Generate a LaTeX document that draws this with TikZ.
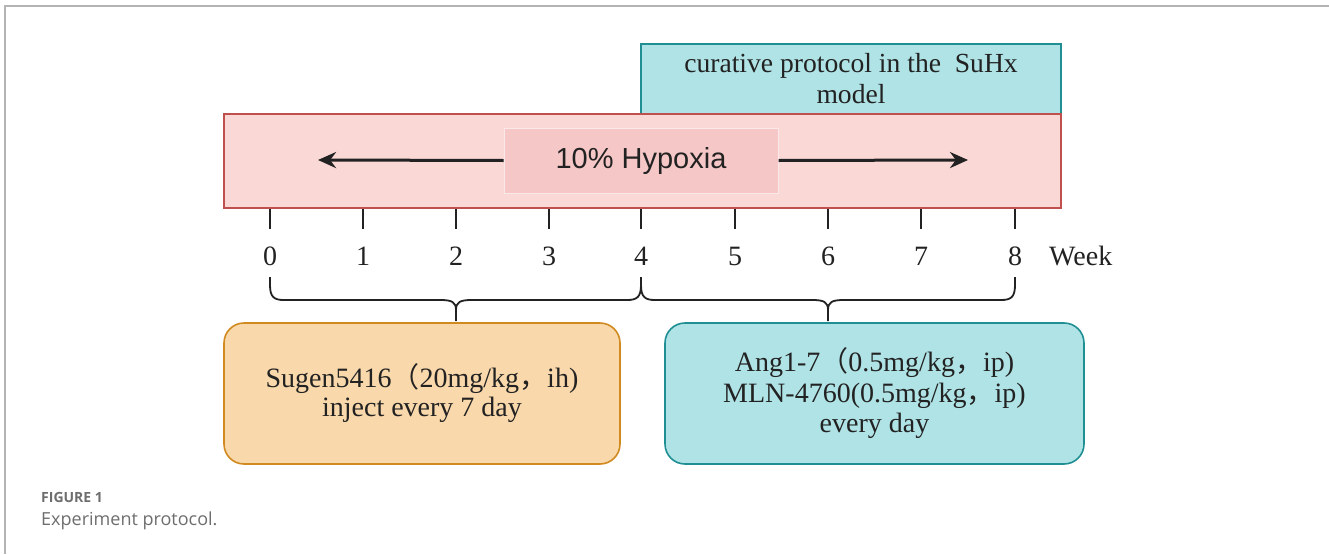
\documentclass[tikz,border=0pt]{standalone}
\usepackage{fontspec}
\setmainfont{Liberation Serif}
\newfontfamily\arialfont{Liberation Sans}
\newfontfamily\capfont{Open Sans}
\newfontfamily\cjk{Noto Sans CJK SC}
\usetikzlibrary{arrows.meta}
\definecolor{pinkfill}{HTML}{FAD8D5}
\definecolor{pinkdraw}{HTML}{C0504D}
\definecolor{pinkin}{HTML}{F5C8C7}
\definecolor{tealfill}{HTML}{B0E3E6}
\definecolor{tealdraw}{HTML}{1F8F94}
\definecolor{orfill}{HTML}{F9D8AB}
\definecolor{ordraw}{HTML}{D08A20}
\definecolor{framegray}{HTML}{B4B4B4}
\definecolor{capgray}{HTML}{6E6E6E}
\definecolor{ink}{HTML}{222222}
\tikzset{
  box/.style={inner sep=0pt, line width=1.6pt, align=center, text=ink},
  serif/.style={font=\fontsize{27.6}{31}\selectfont},
  tick/.style={line width=1.6pt, draw=ink},
  brace/.style={line width=1.8pt, draw=ink, line join=round},
  arr/.style={line width=3pt, draw=ink, -{Stealth[length=18pt,width=16pt]}},
}
\begin{document}
\begin{tikzpicture}[x=1pt,y=-1pt]
\useasboundingbox (0,0) rectangle (1329,554);
\fill[white] (0,0) rectangle (1329,554);
% frame
\draw[framegray, line width=2pt] (1329,6) -- (5,6) -- (5,554);
% boxes
\node[box, serif, draw=tealdraw, fill=tealfill, minimum width=420, minimum height=70] (cur) at (851,79)
  {curative protocol in the\ \ SuHx\\model};
\node[box, draw=pinkdraw, fill=pinkfill, minimum width=837, minimum height=94] (hyp) at (642.5,161) {};
\node[box, draw=white!60!pinkin, line width=1pt, fill=pinkin, minimum width=274, minimum height=65,
  font=\arialfont\fontsize{29}{32}\selectfont] (lab) at (641,160.5) {10\% Hypoxia};
\coordinate (la) at (318,160);
\coordinate (ra) at (968,160);
\draw[arr] (lab.west) -- (la);
\draw[arr] (lab.east) -- (ra);
% timeline
\foreach \i/\x in {0/270,1/363,2/456,3/549,4/641,5/735,6/828,7/921,8/1015}{
  \node[inner sep=0pt, font=\fontsize{28}{30}\selectfont, text=ink] (n\i) at (\x,256) {\i};
  \draw[tick] (n\i |- hyp.south) -- ++(0,20);
}
\node[inner sep=0pt, font=\fontsize{28}{30}\selectfont, text=ink, anchor=west] (wk) at (1049,256) {Week};
% braces
\coordinate (b0) at (270,277);
\coordinate (b4) at (641,277);
\coordinate (b8) at (1015,277);
\coordinate (t1) at (456,321);
\coordinate (t2) at (828,321);
\draw[brace] (b0) -- ++(0,8) .. controls +(0,12) and +(-10,0) .. (284,300) -- (440,300)
  .. controls +(12,0) and +(0,-8) .. (456,310) -- (t1);
\draw[brace] (b4) -- ++(0,8) .. controls +(0,12) and +(10,0) .. (627,300) -- (472,300)
  .. controls +(-12,0) and +(0,-8) .. (456,310);
\draw[brace] (b4) -- ++(0,8) .. controls +(0,12) and +(-10,0) .. (655,300) -- (812,300)
  .. controls +(12,0) and +(0,-8) .. (828,310) -- (t2);
\draw[brace] (b8) -- ++(0,8) .. controls +(0,12) and +(10,0) .. (1001,300) -- (844,300)
  .. controls +(-12,0) and +(0,-8) .. (828,310);
% bottom boxes
\node[box, draw=ordraw, fill=orfill, rounded corners=20, minimum width=396, minimum height=141,
  font=\fontsize{28}{29}\selectfont] (sug) at (422,393.5)
  {Sugen5416{\cjk （}20mg/kg{\cjk ，}ih)\\inject every 7 day};
\node[box, draw=tealdraw, fill=tealfill, rounded corners=20, minimum width=419, minimum height=141,
  font=\fontsize{28}{30.5}\selectfont] (ang) at (874.5,393.5)
  {Ang1-7{\cjk （}0.5mg/kg{\cjk ，}ip)\\MLN-4760(0.5mg/kg{\cjk ，}ip)\\every day};
% caption
\node[inner sep=0pt, anchor=base west, text=capgray, font=\capfont\bfseries\fontsize{14}{16}\selectfont] (fig) at (41,502) {FIGURE 1};
\node[inner sep=0pt, anchor=base west, text=capgray, font=\capfont\fontsize{18}{22}\selectfont] (cap) at (41,525) {Experiment protocol.};
\end{tikzpicture}
\end{document}
